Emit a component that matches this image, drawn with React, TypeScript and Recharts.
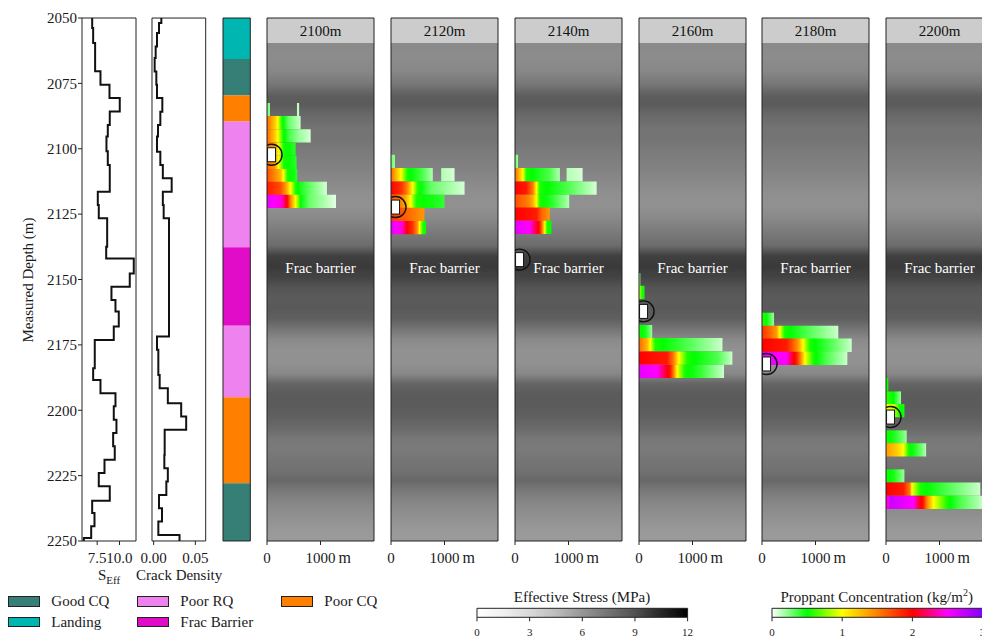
import React from "react";
import { ComposedChart, Line, Scatter, XAxis, YAxis, ReferenceArea } from "recharts";

const DEPTH_DOMAIN: [number, number] = [2050, 2250];
const DEPTH_TICKS = [2050, 2075, 2100, 2125, 2150, 2175, 2200, 2225, 2250];

// effective stress log: step tops (m) and values (MPa)
const seffTops = [
  2050.0, 2053.8, 2059.6, 2070.4, 2075.5, 2080.6, 2085.8, 2090.9, 2095.3, 2101.0, 2106.2, 2116.4,
  2121.5, 2126.6, 2137.5, 2142.0, 2147.7, 2152.8, 2157.8, 2162.2, 2168.0, 2173.1, 2183.9, 2188.4,
  2193.5, 2198.5, 2203.6, 2208.7, 2213.8, 2218.9, 2224.0, 2229.1, 2234.6, 2239.3, 2244.4, 2248.9,
];
const seffValues = [
  6.94, 7.05, 7.27, 7.87, 8.88, 10.03, 8.91, 8.69, 8.54, 8.69, 8.91, 7.57,
  7.68, 8.62, 8.51, 11.6, 11.15, 9.1, 9.55, 9.92, 9.36, 7.23, 7.05, 7.87,
  9.55, 9.36, 9.66, 9.29, 9.47, 8.32, 7.68, 8.91, 6.94, 7.2, 6.83, 6.0,
];

// crack density log, two logged intervals
const crackUpperTops = [2050.0, 2051.9, 2055.7, 2060.9, 2065.3, 2070.4, 2075.5, 2080.6, 2085.8, 2090.9, 2095.3, 2101.1, 2106.2, 2111.3, 2116.4, 2121.5, 2126.6];
const crackUpperValues = [0.0092, 0.0064, 0.004, 0.0024, 0.0012, 0.0032, 0.004, 0.0104, 0.008, 0.0052, 0.004, 0.008, 0.011, 0.0216, 0.011, 0.012, 0.0184];
const crackUpperBottom = 2131.7;
const crackLowerTops = [2171.8, 2176.9, 2186.5, 2191.6, 2197.3, 2202.4, 2207.5, 2217.1, 2222.2, 2227.3, 2232.4, 2237.5, 2242.6, 2247.7];
const crackLowerValues = [0.004, 0.0056, 0.0072, 0.017, 0.033, 0.039, 0.0132, 0.0128, 0.017, 0.0152, 0.0064, 0.01, 0.0056, 0.031];

// facies column
const faciesTops = [2050, 2065.7, 2079.6, 2089.6, 2137.7, 2167.7, 2195.0, 2227.9];
const faciesKinds = ["Landing", "Good CQ", "Poor CQ", "Poor RQ", "Frac Barrier", "Poor RQ", "Poor CQ", "Good CQ"];
const faciesColors: Record<string, string> = {
  "Good CQ": "#367f77",
  Landing: "#00b6b0",
  "Poor RQ": "#ee82ee",
  "Frac Barrier": "#e00cc8",
  "Poor CQ": "#ff8000",
};
const legendOrder = ["Good CQ", "Landing", "Poor RQ", "Frac Barrier", "Poor CQ"];

// background effective stress (MPa) behind the frac panels
const stressDepths = [
  2050, 2055, 2060, 2065, 2070, 2075, 2080, 2083, 2087, 2092, 2097, 2102, 2107, 2112, 2117, 2122,
  2127, 2132, 2137, 2141, 2145, 2149, 2153, 2157, 2161, 2165, 2169, 2173, 2177, 2182, 2186, 2190,
  2194, 2198, 2202, 2207, 2211, 2215, 2219, 2223, 2227, 2231, 2236, 2241, 2246, 2250,
];
const stressValues = [
  6.6, 6.6, 6.5, 6.45, 6.6, 7.3, 8.5, 8.6, 8.0, 7.5, 7.4, 7.1, 6.9, 6.6, 6.3, 6.2,
  6.6, 7.2, 7.8, 9.6, 9.8, 9.5, 8.9, 8.6, 8.7, 8.4, 7.4, 6.5, 6.2, 6.2, 6.6, 8.2,
  8.6, 8.6, 8.4, 7.9, 7.3, 7.2, 7.4, 7.6, 8.0, 7.2, 6.6, 6.2, 5.9, 5.8,
];

const stageNames = ["2100m", "2120m", "2140m", "2160m", "2180m", "2200m"];
const stageMarkerDepths = [2102.3, 2122.3, 2142.4, 2162.2, 2182.3, 2202.6];
const markerDistance = 85;

// proppant runs: top of cell (m) and [distance m, concentration kg/m2] along the fracture
type Run = { top: number; stops: [number, number][] };
const stage2100Runs: Run[] = [
  { top: 2082.5, stops: [[0, 0.3], [55, 0.2]] },
  { top: 2082.5, stops: [[560, 0.15], [600, 0.1]] },
  { top: 2087.5, stops: [[0, 1.6], [150, 1.2], [200, 1.0], [280, 0.55], [400, 0.3], [628, 0.1]] },
  { top: 2092.5, stops: [[0, 1.6], [150, 1.2], [200, 1.0], [300, 0.55], [420, 0.35], [600, 0.2], [816, 0.08]] },
  { top: 2097.6, stops: [[0, 1.6], [150, 1.4], [216, 1.0], [310, 0.55], [535, 0.42]] },
  { top: 2102.7, stops: [[0, 1.6], [150, 1.4], [216, 1.0], [310, 0.55], [553, 0.42]] },
  { top: 2107.7, stops: [[0, 1.7], [250, 1.3], [310, 1.0], [380, 0.55], [566, 0.42]] },
  { top: 2112.6, stops: [[0, 1.9], [250, 1.7], [350, 1.4], [440, 1.0], [535, 0.55], [628, 0.45], [800, 0.3], [1120, 0.08]] },
  { top: 2117.6, stops: [[0, 2.6], [280, 2.4], [375, 2.0], [440, 1.5], [535, 1.0], [628, 0.5], [785, 0.3], [1290, 0.05]] },
];
const stage2120Runs: Run[] = [
  { top: 2102.3, stops: [[0, 0.3], [74, 0.2]] },
  { top: 2107.4, stops: [[0, 1.6], [90, 1.3], [187, 1.0], [300, 0.55], [593, 0.35], [781, 0.15]] },
  { top: 2107.4, stops: [[938, 0.15], [1188, 0.08]] },
  { top: 2112.5, stops: [[0, 2.0], [200, 1.8], [300, 1.5], [406, 1.0], [500, 0.55], [750, 0.3], [1375, 0.08]] },
  { top: 2117.6, stops: [[0, 1.7], [250, 1.4], [370, 1.0], [470, 0.55], [1000, 0.4]] },
  { top: 2122.6, stops: [[0, 1.8], [300, 1.6], [625, 1.4]] },
  { top: 2127.6, stops: [[0, 2.6], [218, 2.4], [300, 2.0], [406, 1.8], [500, 1.4], [531, 1.0], [600, 0.55], [656, 0.5]] },
];
const stage2140Runs: Run[] = [
  { top: 2102.3, stops: [[0, 0.3], [57, 0.2]] },
  { top: 2107.4, stops: [[0, 1.6], [100, 1.2], [150, 1.0], [213, 0.55], [651, 0.35], [839, 0.15]] },
  { top: 2107.4, stops: [[964, 0.15], [1264, 0.08]] },
  { top: 2112.5, stops: [[0, 2.0], [213, 1.9], [338, 1.5], [401, 1.0], [464, 0.55], [995, 0.35], [1526, 0.08]] },
  { top: 2117.6, stops: [[0, 1.7], [250, 1.5], [338, 1.3], [401, 1.0], [464, 0.55], [714, 0.4], [1013, 0.15]] },
  { top: 2122.5, stops: [[0, 2.0], [400, 1.9], [500, 1.6], [651, 1.4]] },
  { top: 2127.5, stops: [[0, 2.6], [276, 2.5], [400, 2.1], [464, 1.9], [510, 1.5], [557, 1.0], [600, 0.55], [682, 0.5]] },
];
const stage2160Runs: Run[] = [
  { top: 2147.5, stops: [[0, 0.3], [25, 0.2]] },
  { top: 2152.4, stops: [[0, 0.9], [50, 0.6], [103, 0.45]] },
  { top: 2167.4, stops: [[0, 0.55], [120, 0.45], [247, 0.2]] },
  { top: 2172.4, stops: [[0, 1.6], [150, 1.3], [213, 1.0], [300, 0.55], [901, 0.35], [1560, 0.1]] },
  { top: 2177.5, stops: [[0, 2.0], [528, 1.9], [651, 1.5], [745, 1.0], [901, 0.55], [1464, 0.35], [1745, 0.1]] },
  { top: 2182.6, stops: [[0, 2.6], [338, 2.5], [500, 2.1], [589, 1.9], [650, 1.5], [714, 1.0], [850, 0.55], [1152, 0.4], [1589, 0.1]] },
];
const stage2180Runs: Run[] = [
  { top: 2162.7, stops: [[0, 0.6], [80, 0.5], [225, 0.2]] },
  { top: 2167.7, stops: [[0, 1.8], [150, 1.6], [270, 1.4], [333, 1.0], [420, 0.55], [832, 0.35], [1426, 0.1]] },
  { top: 2172.6, stops: [[0, 2.0], [457, 1.9], [560, 1.7], [676, 1.4], [770, 1.0], [895, 0.55], [1270, 0.35], [1677, 0.1]] },
  { top: 2177.6, stops: [[0, 2.6], [457, 2.5], [560, 2.1], [645, 1.9], [720, 1.5], [801, 1.0], [958, 0.55], [1200, 0.35], [1595, 0.1]] },
];
const stage2200Runs: Run[] = [
  { top: 2187.7, stops: [[0, 0.55], [44, 0.5]] },
  { top: 2192.8, stops: [[0, 0.6], [140, 0.5], [281, 0.2]] },
  { top: 2197.6, stops: [[0, 1.0], [150, 0.9], [250, 0.55], [344, 0.45]] },
  { top: 2207.7, stops: [[0, 0.55], [200, 0.4], [388, 0.2]] },
  { top: 2212.6, stops: [[0, 1.4], [200, 1.2], [326, 1.0], [420, 0.55], [576, 0.4], [750, 0.15]] },
  { top: 2222.6, stops: [[0, 0.55], [150, 0.45], [344, 0.2]] },
  { top: 2227.6, stops: [[0, 2.0], [325, 1.9], [450, 1.5], [482, 1.0], [638, 0.55], [1138, 0.35], [1763, 0.1]] },
  { top: 2232.7, stops: [[0, 2.3], [75, 2.7], [513, 2.5], [620, 2.1], [701, 1.9], [763, 1.5], [889, 1.0], [1138, 0.55], [1388, 0.35], [1830, 0.1]] },
];
const stageRuns = [stage2100Runs, stage2120Runs, stage2140Runs, stage2160Runs, stage2180Runs, stage2200Runs];
const CELL = 5.08;

const stressTicks = [0, 3, 6, 9, 12];
const proppantTicks = [0, 1, 2, 3];

// ---- colour maps ----
const GREY_NODES: [number, number][] = [
  [0, 255], [0.125, 240], [0.25, 217], [0.375, 189], [0.5, 150], [0.625, 115], [0.75, 82], [0.875, 37], [1, 0],
];
function greys(t: number) {
  const v = Math.max(0, Math.min(1, t));
  for (let i = 0; i < GREY_NODES.length - 1; i++) {
    const [a, ga] = GREY_NODES[i];
    const [b, gb] = GREY_NODES[i + 1];
    if (v <= b) {
      const g = Math.round(ga + ((gb - ga) * (v - a)) / (b - a));
      return `rgb(${g},${g},${g})`;
    }
  }
  return "rgb(0,0,0)";
}

const PROP_NODES: [number, number[]][] = [
  [0, [255, 255, 255]], [0.5, [0, 255, 0]], [1, [255, 255, 0]], [1.5, [255, 128, 0]],
  [2, [255, 0, 0]], [2.5, [255, 0, 255]], [3, [128, 0, 255]],
];
function proppant(c: number) {
  const v = Math.max(0, Math.min(3, c));
  for (let i = 0; i < PROP_NODES.length - 1; i++) {
    const [a, ca] = PROP_NODES[i];
    const [b, cb] = PROP_NODES[i + 1];
    if (v <= b) {
      const t = (v - a) / (b - a);
      const rgb = ca.map((x, k) => Math.round(x + (cb[k] - x) * t));
      return `rgb(${rgb.join(",")})`;
    }
  }
  return "rgb(128,0,255)";
}

// ---- layout ----
const H = 580;
const PLOT_TOP = 18;
const PLOT_BOTTOM = 541;
const XAXIS_H = 34;
const STAGE_LEFTS = [267, 391, 515, 639, 762, 886];
const STAGE_W = 107;
const HEADER_BOTTOM = 2059.6;
const INK = "#1a1a1a";

function frame(plotLeft: number, plotW: number, yw: number, ml: number, mr: number) {
  return {
    style: { position: "absolute" as const, left: plotLeft - yw - ml, top: 0 },
    width: ml + yw + plotW + mr,
    height: H,
    margin: { top: PLOT_TOP, right: mr, bottom: H - PLOT_BOTTOM - XAXIS_H, left: ml },
  };
}

function stepData(tops: number[], values: number[], bottom: number) {
  const pts = tops.map((d, i) => ({ depth: d, v: values[i] as number | null }));
  pts.push({ depth: bottom, v: values[values.length - 1] });
  return pts;
}

const seffData = stepData(seffTops, seffValues, 2250);
const crackData = [
  ...stepData(crackUpperTops, crackUpperValues, crackUpperBottom),
  { depth: 2150, v: null },
  ...stepData(crackLowerTops, crackLowerValues, 2250),
];

function StressGradient({ id }: { id: string }) {
  return (
    <linearGradient id={id} x1="0" y1="0" x2="0" y2="1">
      {stressDepths.map((d, i) => (
        <stop key={i} offset={(d - DEPTH_DOMAIN[0]) / (DEPTH_DOMAIN[1] - DEPTH_DOMAIN[0])} stopColor={greys(stressValues[i] / 12)} />
      ))}
    </linearGradient>
  );
}

function RunGradient({ id, stops }: { id: string; stops: [number, number][] }) {
  const x0 = stops[0][0];
  const x1 = stops[stops.length - 1][0];
  const out: { o: number; c: number }[] = [];
  for (let i = 0; i < stops.length - 1; i++) {
    const [da, ca] = stops[i];
    const [db, cb] = stops[i + 1];
    for (let k = 0; k < 4; k++) {
      const t = k / 4;
      out.push({ o: (da + (db - da) * t - x0) / (x1 - x0), c: ca + (cb - ca) * t });
    }
  }
  out.push({ o: 1, c: stops[stops.length - 1][1] });
  return (
    <linearGradient id={id} x1="0" y1="0" x2="1" y2="0">
      {out.map((s, i) => (
        <stop key={i} offset={s.o} stopColor={proppant(s.c)} />
      ))}
    </linearGradient>
  );
}

function DistanceTick(props: any) {
  const { x, y, payload } = props;
  return (
    <g>
      <text x={x} y={y} dy="0.71em" textAnchor="middle" fontSize={15} fill={INK}>
        {payload.value}
      </text>
      {payload.value === 1000 && (
        <text x={x + 18} y={y} dy="0.71em" fontSize={16} fill={INK}>
          m
        </text>
      )}
    </g>
  );
}

function WellMarker(props: any) {
  const { cx, cy } = props;
  return (
    <g>
      <circle cx={cx} cy={cy} r={10.5} fill="none" stroke="#111" strokeWidth={1.4} />
      <rect x={cx - 4} y={cy - 7} width={8} height={14} fill="#fff" stroke="#111" strokeWidth={1} />
    </g>
  );
}

// in vertical layout the depth axis already runs top-down
function SeffPanel() {
  const f = frame(82, 54, 82, 0, 10);
  return (
    <div style={f.style}>
      <ComposedChart layout="vertical" width={f.width} height={f.height} margin={f.margin} data={seffData}>
        <XAxis type="number" domain={[5.8, 11.85]} ticks={[7.5, 10]} interval={0} tickFormatter={(v: number) => v.toFixed(1)} allowDataOverflow height={XAXIS_H} tickSize={4} tickMargin={7} axisLine={false} stroke="#222" tick={{ fontSize: 15, fill: INK }} />
        <YAxis type="number" dataKey="depth" domain={DEPTH_DOMAIN} ticks={DEPTH_TICKS} interval={0} allowDataOverflow width={82} tickSize={4} tickMargin={1} axisLine={false} stroke="#222" tick={{ fontSize: 15, fill: INK }} />
        <ReferenceArea x1={5.8} x2={11.85} y1={2050} y2={2250} fill="none" stroke="#222" strokeWidth={1} />
        <Line dataKey="v" type="stepBefore" stroke="#111" strokeWidth={2} dot={false} activeDot={false} isAnimationActive={false} />
      </ComposedChart>
    </div>
  );
}

function CrackPanel() {
  const f = frame(152.3, 53.7, 6, 14, 14);
  return (
    <div style={f.style}>
      <ComposedChart layout="vertical" width={f.width} height={f.height} margin={f.margin} data={crackData}>
        <XAxis type="number" domain={[-0.002, 0.0624]} ticks={[0, 0.05]} interval={0} tickFormatter={(v: number) => v.toFixed(2)} allowDataOverflow height={XAXIS_H} tickSize={4} tickMargin={7} axisLine={false} stroke="#222" tick={{ fontSize: 15, fill: INK }} />
        <YAxis type="number" dataKey="depth" domain={DEPTH_DOMAIN} ticks={DEPTH_TICKS} interval={0} allowDataOverflow width={6} tickSize={4} tick={false} axisLine={false} stroke="#222" />
        <ReferenceArea x1={-0.002} x2={0.0624} y1={2050} y2={2250} fill="none" stroke="#222" strokeWidth={1} />
        <Line dataKey="v" type="stepBefore" stroke="#111" strokeWidth={2} dot={false} activeDot={false} connectNulls={false} isAnimationActive={false} />
      </ComposedChart>
    </div>
  );
}

function FaciesPanel() {
  const f = frame(222.7, 27.3, 6, 4, 4);
  return (
    <div style={f.style}>
      <ComposedChart width={f.width} height={f.height} margin={f.margin} data={[{ x: 0.5, depth: 2150 }]}>
        <XAxis type="number" dataKey="x" domain={[0, 1]} ticks={[0, 1]} interval={0} allowDataOverflow height={XAXIS_H} tickSize={4} tick={false} axisLine={false} stroke="#222" />
        <YAxis type="number" dataKey="depth" domain={DEPTH_DOMAIN} reversed ticks={DEPTH_TICKS} interval={0} allowDataOverflow width={6} tickSize={4} tick={false} axisLine={false} stroke="#222" />
        {faciesTops.map((top, i) => (
          <ReferenceArea
            key={i}
            x1={0}
            x2={1}
            y1={top}
            y2={i < faciesTops.length - 1 ? faciesTops[i + 1] : DEPTH_DOMAIN[1]}
            fill={faciesColors[faciesKinds[i]]}
            fillOpacity={1}
            stroke="none"
          />
        ))}
        <ReferenceArea x1={0} x2={1} y1={2050} y2={2250} fill="none" stroke="#222" strokeWidth={1} />
      </ComposedChart>
    </div>
  );
}

function StagePanel({ index }: { index: number }) {
  const f = frame(STAGE_LEFTS[index], STAGE_W, 6, 10, 14);
  const pid = `stage${index}`;
  const runs = stageRuns[index];
  return (
    <div style={f.style}>
      <ComposedChart width={f.width} height={f.height} margin={f.margin}>
        <defs>
          <StressGradient id={`${pid}-stress`} />
          {runs.map((r, j) => (
            <RunGradient key={j} id={`${pid}-run${j}`} stops={r.stops} />
          ))}
        </defs>
        <XAxis type="number" dataKey="dist" domain={[0, 2000]} ticks={[0, 1000]} interval={0} allowDataOverflow height={XAXIS_H} tickSize={4} tickMargin={7} axisLine={false} stroke="#222" tick={(p: any) => <DistanceTick {...p} />} />
        <YAxis type="number" dataKey="depth" domain={DEPTH_DOMAIN} reversed ticks={DEPTH_TICKS} interval={0} allowDataOverflow width={6} tickSize={4} tick={false} axisLine={false} stroke="#222" />
        <ReferenceArea x1={0} x2={2000} y1={2050} y2={2250} fill={`url(#${pid}-stress)`} fillOpacity={1} stroke="none" />
        {runs.map((r, j) => (
          <ReferenceArea
            key={j}
            x1={r.stops[0][0]}
            x2={r.stops[r.stops.length - 1][0]}
            y1={r.top}
            y2={r.top + CELL}
            fill={`url(#${pid}-run${j})`}
            fillOpacity={1}
            stroke="none"
          />
        ))}
        <ReferenceArea
          x1={0}
          x2={2000}
          y1={2050}
          y2={HEADER_BOTTOM}
          fill="#cccccc"
          fillOpacity={1}
          stroke="none"
          label={{ value: stageNames[index], position: "center", fill: "#111", fontSize: 15 }}
        />
        <ReferenceArea
          x1={0}
          x2={2000}
          y1={2143}
          y2={2148}
          fill="none"
          stroke="none"
          label={{ value: "Frac barrier", position: "center", fill: "#ffffff", fontSize: 15 }}
        />
        <ReferenceArea x1={0} x2={2000} y1={2050} y2={2250} fill="none" stroke="#222" strokeWidth={1} />
        <Scatter
          data={[{ dist: markerDistance, depth: stageMarkerDepths[index] }]}
          isAnimationActive={false}
          shape={(p: any) => <WellMarker {...p} />}
        />
      </ComposedChart>
    </div>
  );
}

function ColorBar({ id, left, domain, ticks, stops }: { id: string; left: number; domain: [number, number]; ticks: number[]; stops: { o: number; c: string }[] }) {
  const ml = 12;
  return (
    <div style={{ position: "absolute", left: left - ml, top: 598 }}>
      <ComposedChart width={210.6 + ml * 2} height={40} margin={{ top: 10.3, right: ml, bottom: 0.7, left: ml }} data={[{ x: domain[0], y: 0.5 }]}>
        <defs>
          <linearGradient id={id} x1="0" y1="0" x2="1" y2="0">
            {stops.map((s, i) => (
              <stop key={i} offset={s.o} stopColor={s.c} />
            ))}
          </linearGradient>
        </defs>
        <XAxis type="number" dataKey="x" domain={domain} ticks={ticks} interval={0} allowDataOverflow height={20} tickSize={4} tickMargin={7} axisLine={false} stroke="#222" tick={{ fontSize: 11, fill: INK }} />
        <YAxis type="number" dataKey="y" domain={[0, 1]} allowDataOverflow hide />
        <ReferenceArea x1={domain[0]} x2={domain[1]} y1={0} y2={1} fill={`url(#${id})`} fillOpacity={1} stroke="#222" strokeWidth={1} />
      </ComposedChart>
    </div>
  );
}

export default function App() {
  const greyStops = GREY_NODES.map(([t]) => ({ o: t, c: greys(t) }));
  const propStops = PROP_NODES.map(([v]) => ({ o: v / 3, c: proppant(v) }));
  return (
    <div
      style={{
        position: "fixed",
        left: 0,
        top: 0,
        width: 982,
        height: 638,
        overflow: "hidden",
        background: "#fff",
        color: INK,
        fontFamily: '"Liberation Serif", "Times New Roman", serif',
      }}
    >
      <div
        style={{
          position: "absolute",
          left: 27.5 - 150,
          top: 279.5 - 10,
          width: 300,
          height: 20,
          lineHeight: "20px",
          textAlign: "center",
          fontSize: 15,
          transform: "rotate(-90deg)",
        }}
      >
        Measured Depth (m)
      </div>
      <SeffPanel />
      <CrackPanel />
      <FaciesPanel />
      {stageNames.map((_, i) => (
        <StagePanel key={i} index={i} />
      ))}

      <div style={{ position: "absolute", left: 109 - 40, top: 567, width: 80, textAlign: "center", fontSize: 15, lineHeight: "16px" }}>
        S<span style={{ fontSize: 11, position: "relative", top: 4 }}>Eff</span>
      </div>
      <div style={{ position: "absolute", left: 179.2 - 60, top: 567, width: 120, textAlign: "center", fontSize: 15, lineHeight: "16px" }}>
        Crack Density
      </div>

      <div
        style={{
          position: "absolute",
          left: 8.3,
          top: 591,
          display: "grid",
          gridTemplateColumns: "129px 144px 130px",
          gridTemplateRows: "20.7px 20.7px",
          gridAutoFlow: "column",
        }}
      >
        {legendOrder.map((k) => (
          <div key={k} style={{ display: "flex", alignItems: "center", height: 20.7 }}>
            <div style={{ width: 31.5, height: 10.5, boxSizing: "border-box", border: "1px solid #222", background: faciesColors[k] }} />
            <span style={{ marginLeft: 11.5, fontSize: 15, lineHeight: 1 }}>{k}</span>
          </div>
        ))}
      </div>

      <div style={{ position: "absolute", left: 582 - 150, top: 589.4, width: 300, textAlign: "center", fontSize: 15, lineHeight: "16px" }}>
        Effective Stress (MPa)
      </div>
      <ColorBar id="stress-bar" left={476.7} domain={[0, 12]} ticks={stressTicks} stops={greyStops} />

      <div style={{ position: "absolute", left: 876.7 - 150, top: 589.4, width: 300, textAlign: "center", fontSize: 15, lineHeight: "16px" }}>
        Proppant Concentration (kg/m<sup style={{ fontSize: 10, verticalAlign: "6px", lineHeight: 0 }}>2</sup>)
      </div>
      <ColorBar id="prop-bar" left={771.7} domain={[0, 3]} ticks={proppantTicks} stops={propStops} />
    </div>
  );
}
